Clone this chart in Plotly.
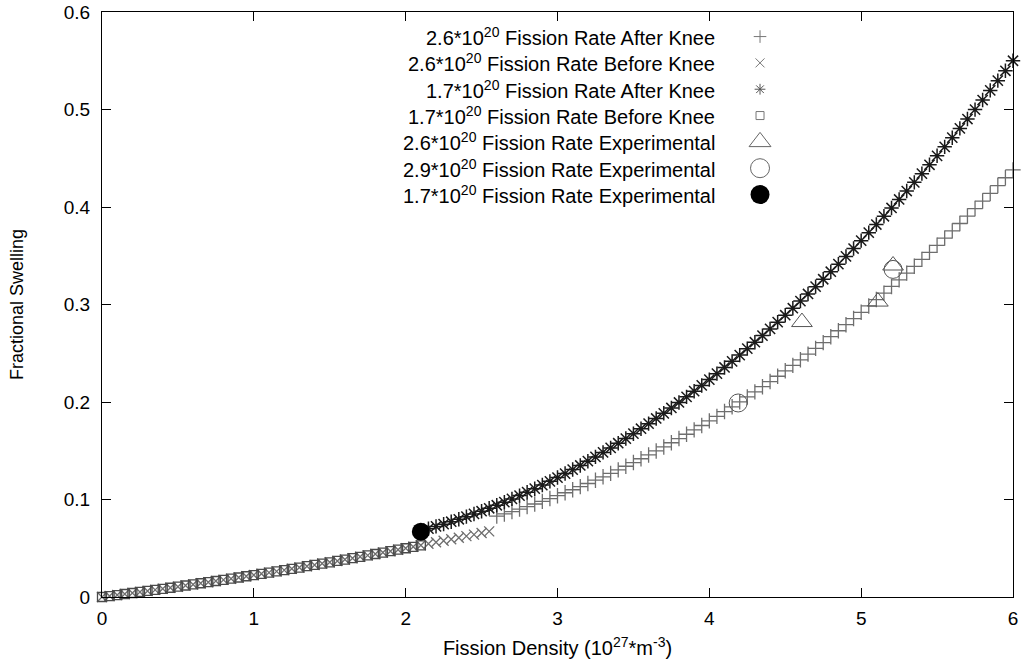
import plotly.graph_objects as go

# ---------------- data ----------------
# 2.6e20 fission rate, after knee (+)
x_26_after = [2.60, 2.65, 2.70, 2.75, 2.80, 2.85, 2.90, 2.95, 3.00, 3.05, 3.10, 3.15, 3.20, 3.25, 3.30,
              3.35, 3.40, 3.45, 3.50, 3.55, 3.60, 3.65, 3.70, 3.75, 3.80, 3.85, 3.90, 3.95, 4.00, 4.05,
              4.10, 4.15, 4.20, 4.25, 4.30, 4.35, 4.40, 4.45, 4.50, 4.55, 4.60, 4.65, 4.70, 4.75, 4.80,
              4.85, 4.90, 4.95, 5.00, 5.05, 5.10, 5.15, 5.20, 5.25, 5.30, 5.35, 5.40, 5.45, 5.50, 5.55,
              5.60, 5.65, 5.70, 5.75, 5.80, 5.85, 5.90, 5.95, 6.00]
y_26_after = [0.0829, 0.0852, 0.0876, 0.0901, 0.0927, 0.0954, 0.0981, 0.1010, 0.1039, 0.1069, 0.1100,
              0.1132, 0.1164, 0.1198, 0.1233, 0.1268, 0.1304, 0.1341, 0.1379, 0.1418, 0.1457, 0.1498,
              0.1539, 0.1582, 0.1625, 0.1669, 0.1714, 0.1759, 0.1806, 0.1853, 0.1902, 0.1951, 0.2001,
              0.2052, 0.2104, 0.2157, 0.2210, 0.2264, 0.2320, 0.2376, 0.2433, 0.2491, 0.2550, 0.2609,
              0.2670, 0.2731, 0.2793, 0.2856, 0.2920, 0.2985, 0.3051, 0.3117, 0.3185, 0.3253, 0.3322,
              0.3392, 0.3463, 0.3535, 0.3607, 0.3681, 0.3755, 0.3831, 0.3907, 0.3984, 0.4061, 0.4140,
              0.4220, 0.4300, 0.4381]

# 2.6e20 fission rate, before knee (x)
x_26_before = [0.00, 0.05, 0.10, 0.15, 0.20, 0.25, 0.30, 0.35, 0.40, 0.45, 0.50, 0.55, 0.60, 0.65, 0.70,
               0.75, 0.80, 0.85, 0.90, 0.95, 1.00, 1.05, 1.10, 1.15, 1.20, 1.25, 1.30, 1.35, 1.40, 1.45,
               1.50, 1.55, 1.60, 1.65, 1.70, 1.75, 1.80, 1.85, 1.90, 1.95, 2.00, 2.05, 2.10, 2.15, 2.20,
               2.25, 2.30, 2.35, 2.40, 2.45, 2.50, 2.55]
y_26_before = [0.0000, 0.0010, 0.0020, 0.0031, 0.0041, 0.0052, 0.0062, 0.0073, 0.0084, 0.0095, 0.0106,
               0.0118, 0.0129, 0.0141, 0.0152, 0.0164, 0.0176, 0.0188, 0.0200, 0.0213, 0.0225, 0.0238,
               0.0250, 0.0263, 0.0276, 0.0289, 0.0302, 0.0316, 0.0329, 0.0343, 0.0356, 0.0370, 0.0384,
               0.0398, 0.0412, 0.0427, 0.0441, 0.0456, 0.0470, 0.0485, 0.0500, 0.0515, 0.0530, 0.0546,
               0.0561, 0.0577, 0.0592, 0.0608, 0.0624, 0.0640, 0.0656, 0.0673]

# 1.7e20 fission rate, after knee (*)
x_17_after = [2.10, 2.15, 2.20, 2.25, 2.30, 2.35, 2.40, 2.45, 2.50, 2.55, 2.60, 2.65, 2.70, 2.75, 2.80,
              2.85, 2.90, 2.95, 3.00, 3.05, 3.10, 3.15, 3.20, 3.25, 3.30, 3.35, 3.40, 3.45, 3.50, 3.55,
              3.60, 3.65, 3.70, 3.75, 3.80, 3.85, 3.90, 3.95, 4.00, 4.05, 4.10, 4.15, 4.20, 4.25, 4.30,
              4.35, 4.40, 4.45, 4.50, 4.55, 4.60, 4.65, 4.70, 4.75, 4.80, 4.85, 4.90, 4.95, 5.00, 5.05,
              5.10, 5.15, 5.20, 5.25, 5.30, 5.35, 5.40, 5.45, 5.50, 5.55, 5.60, 5.65, 5.70, 5.75, 5.80,
              5.85, 5.90, 5.95, 6.00]
y_17_after = [0.0680, 0.0701, 0.0724, 0.0747, 0.0772, 0.0797, 0.0824, 0.0852, 0.0880, 0.0910, 0.0941,
              0.0973, 0.1006, 0.1040, 0.1075, 0.1111, 0.1148, 0.1186, 0.1225, 0.1266, 0.1307, 0.1349,
              0.1393, 0.1437, 0.1483, 0.1529, 0.1577, 0.1625, 0.1675, 0.1726, 0.1778, 0.1831, 0.1884,
              0.1939, 0.1995, 0.2053, 0.2111, 0.2170, 0.2230, 0.2291, 0.2354, 0.2417, 0.2481, 0.2547,
              0.2613, 0.2681, 0.2750, 0.2819, 0.2890, 0.2962, 0.3035, 0.3108, 0.3183, 0.3259, 0.3336,
              0.3414, 0.3493, 0.3574, 0.3655, 0.3737, 0.3820, 0.3905, 0.3990, 0.4077, 0.4164, 0.4253,
              0.4342, 0.4433, 0.4525, 0.4617, 0.4711, 0.4806, 0.4902, 0.4999, 0.5097, 0.5196, 0.5296,
              0.5397, 0.5500]

# 1.7e20 fission rate, before knee (square)
x_17_before = [0.00, 0.05, 0.10, 0.15, 0.20, 0.25, 0.30, 0.35, 0.40, 0.45, 0.50, 0.55, 0.60, 0.65, 0.70,
               0.75, 0.80, 0.85, 0.90, 0.95, 1.00, 1.05, 1.10, 1.15, 1.20, 1.25, 1.30, 1.35, 1.40, 1.45,
               1.50, 1.55, 1.60, 1.65, 1.70, 1.75, 1.80, 1.85, 1.90, 1.95, 2.00, 2.05, 2.10]
y_17_before = [0.0000, 0.0010, 0.0020, 0.0031, 0.0041, 0.0052, 0.0062, 0.0073, 0.0084, 0.0095, 0.0106,
               0.0118, 0.0129, 0.0141, 0.0152, 0.0164, 0.0176, 0.0188, 0.0200, 0.0213, 0.0225, 0.0238,
               0.0250, 0.0263, 0.0276, 0.0289, 0.0302, 0.0316, 0.0329, 0.0343, 0.0356, 0.0370, 0.0384,
               0.0398, 0.0412, 0.0427, 0.0441, 0.0456, 0.0470, 0.0485, 0.0500, 0.0515, 0.0530]

# experimental points
x_26_exp = [4.61, 5.11, 5.21]
y_26_exp = [0.282, 0.303, 0.340]
x_29_exp = [4.19, 5.21]
y_29_exp = [0.199, 0.336]
x_17_exp = [2.10]
y_17_exp = [0.067]

legend_labels = [
    "2.6*10<sup>20</sup> Fission Rate After Knee",
    "2.6*10<sup>20</sup> Fission Rate Before Knee",
    "1.7*10<sup>20</sup> Fission Rate After Knee",
    "1.7*10<sup>20</sup> Fission Rate Before Knee",
    "2.6*10<sup>20</sup> Fission Rate Experimental",
    "2.9*10<sup>20</sup> Fission Rate Experimental",
    "1.7*10<sup>20</sup> Fission Rate Experimental",
]

# ---------------- styles ----------------
FONT = "Liberation Sans, Arial, Helvetica, sans-serif"
styles = [
    dict(symbol="cross-thin-open", size=11, color="#6e6e6e", lw=1.3),
    dict(symbol="x-thin-open", size=10, color="#6e6e6e", lw=1.3),
    dict(symbol="asterisk-open", size=12, color="#1a1a1a", lw=1.5),
    dict(symbol="square-open", size=9, color="#4a4a4a", lw=1.3),
    dict(symbol="triangle-up-open", size=18, color="#555555", lw=1.0),
    dict(symbol="circle-open", size=18, color="#555555", lw=1.0),
    dict(symbol="circle", size=18, color="#000000", lw=0),
]
key_styles = [
    dict(symbol="cross-thin-open", size=9, color="#777777", lw=1.0),
    dict(symbol="x-thin-open", size=9, color="#777777", lw=1.0),
    dict(symbol="asterisk-open", size=9, color="#555555", lw=1.0),
    dict(symbol="square-open", size=8, color="#777777", lw=1.0),
    dict(symbol="triangle-up-open", size=19, color="#666666", lw=1.0),
    dict(symbol="circle-open", size=19, color="#666666", lw=1.0),
    dict(symbol="circle", size=19, color="#000000", lw=0),
]
series = [
    (x_26_after, y_26_after),
    (x_26_before, y_26_before),
    (x_17_after, y_17_after),
    (x_17_before, y_17_before),
    (x_26_exp, y_26_exp),
    (x_29_exp, y_29_exp),
    (x_17_exp, y_17_exp),
]

fig = go.Figure()
for (xs, ys), st in zip(series, styles):
    fig.add_trace(go.Scatter(
        x=xs, y=ys, mode="markers", showlegend=False, cliponaxis=False,
        marker=dict(symbol=st["symbol"], size=st["size"], color=st["color"],
                    line=dict(color=st["color"], width=st["lw"])),
    ))

# custom gnuplot-style key: text right-aligned, symbol on the right
key_text_x = 0.6748
key_sym_x = 0.7223
key_rows = [0.9580, 0.9130, 0.8680, 0.8230, 0.7780, 0.7330, 0.6880]
for st, lab, ky in zip(key_styles, legend_labels, key_rows):
    fig.add_trace(go.Scatter(
        x=[key_sym_x], y=[ky], xaxis="x2", yaxis="y2", mode="markers", showlegend=False,
        marker=dict(symbol=st["symbol"], size=st["size"], color=st["color"],
                    line=dict(color=st["color"], width=st["lw"])),
    ))
    fig.add_annotation(x=key_text_x, y=ky, xref="x2", yref="y2", text=lab, showarrow=False,
                       xanchor="right", yanchor="middle",
                       font=dict(family=FONT, size=20, color="#000000"))

axis_common = dict(
    showline=True, linecolor="#000000", linewidth=1.3, mirror="allticks",
    ticks="inside", ticklen=9, tickwidth=1.2, tickcolor="#000000",
    showgrid=False, zeroline=False, automargin=False,
    tickfont=dict(family=FONT, size=19, color="#000000"),
)

fig.update_layout(
    width=1022, height=665,
    margin=dict(l=102, r=9, t=12, b=68),
    paper_bgcolor="#ffffff", plot_bgcolor="#ffffff",
    xaxis=dict(range=[0, 6], tickmode="array", tickvals=[0, 1, 2, 3, 4, 5, 6],
               ticktext=["0", "1", "2", "3", "4", "5", "6"], ticklabelstandoff=4,
               title=dict(text="Fission Density (10<sup>27</sup>*m<sup>-3</sup>)",
                          font=dict(family=FONT, size=20, color="#000000"), standoff=13),
               **axis_common),
    yaxis=dict(range=[0, 0.6], tickmode="array", tickvals=[0, 0.1, 0.2, 0.3, 0.4, 0.5, 0.6],
               ticktext=["0", "0.1", "0.2", "0.3", "0.4", "0.5", "0.6"], ticklabelstandoff=7,
               title=dict(text="Fractional Swelling",
                          font=dict(family=FONT, size=18, color="#000000"), standoff=35),
               **axis_common),
    xaxis2=dict(range=[0, 1], overlaying="x", visible=False, fixedrange=True),
    yaxis2=dict(range=[0, 1], overlaying="y", visible=False, fixedrange=True),
)

fig.write_html("out.html")
